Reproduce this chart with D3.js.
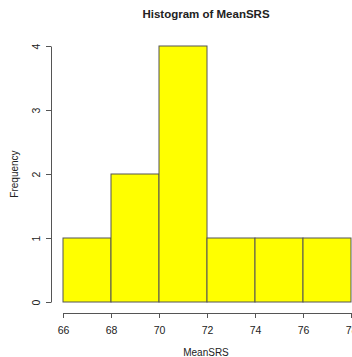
<!DOCTYPE html>
<html>
<head>
<meta charset="utf-8">
<script src="https://cdn.jsdelivr.net/npm/d3@7"></script>
<style>
  body { margin: 0; background: #fff; }
  text { font-family: "Liberation Sans", Arial, sans-serif; fill: #222; }
</style>
</head>
<body>
<div class="hist"></div>
<script>
var binStarts = [66, 68, 70, 72, 74, 76];
var binEnds = [68, 70, 72, 74, 76, 78];
var counts = [1, 2, 4, 1, 1, 1];
var xTicks = [66, 68, 70, 72, 74, 76, 78];
var yTicks = [0, 1, 2, 3, 4];

var width = 352;
var height = 357;

var xScale = d3.scaleLinear().domain([66, 78]).range([63, 351]);
var yScale = d3.scaleLinear().domain([0, 4]).range([302, 46]);

var svg = d3
  .select(".hist")
  .append("svg")
  .attr("width", width)
  .attr("height", height);

// bars
svg
  .selectAll("rect")
  .data(counts)
  .enter()
  .append("rect")
  .attr("fill", "#ffff00")
  .attr("stroke", "#555")
  .attr("stroke-width", 1)
  .attr("x", function(d, i) { return xScale(binStarts[i]); })
  .attr("width", function(d, i) { return xScale(binEnds[i]) - xScale(binStarts[i]); })
  .attr("y", function(d) { return yScale(d); })
  .attr("height", function(d) { return yScale(0) - yScale(d); });

// x axis
svg
  .append("g")
  .attr("transform", "translate(0,313)")
  .call(d3.axisBottom(xScale).tickValues(xTicks).tickFormat(d3.format("d")).tickSize(5).tickSizeOuter(0).tickPadding(9));

// y axis
var yAxis = svg
  .append("g")
  .attr("transform", "translate(51,0)")
  .call(d3.axisLeft(yScale).tickValues(yTicks).tickFormat(d3.format("d")).tickSize(5).tickSizeOuter(0));

// rotate y tick labels as in R
yAxis.selectAll(".tick text").each(function() {
  d3.select(this)
    .attr("x", 0)
    .attr("y", 0)
    .attr("transform", "translate(-15,0) rotate(-90)")
    .attr("text-anchor", "middle")
    .attr("dy", "0.35em");
});

svg.selectAll(".domain, .tick line").attr("stroke", "#555");
svg.selectAll(".tick text").style("font-size", "10.5px").style("fill", "#222");

// labels
svg.append("text")
  .attr("x", 206)
  .attr("y", 18)
  .attr("text-anchor", "middle")
  .style("font-size", "11.5px")
  .style("font-weight", "bold")
  .text("Histogram of MeanSRS");

svg.append("text")
  .attr("x", 206)
  .attr("y", 356)
  .attr("text-anchor", "middle")
  .style("font-size", "10px")
  .text("MeanSRS");

svg.append("text")
  .attr("transform", "translate(18,174) rotate(-90)")
  .attr("text-anchor", "middle")
  .style("font-size", "10px")
  .text("Frequency");
</script>
</body>
</html>
